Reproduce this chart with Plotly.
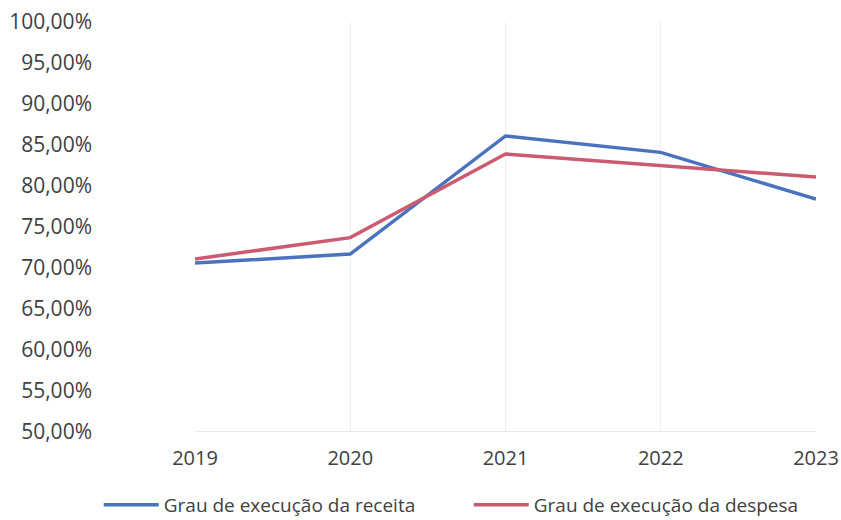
import plotly.graph_objects as go

# data
anos = ["2019", "2020", "2021", "2022", "2023"]
receita = [70.6, 71.7, 86.1, 84.1, 78.4]
despesa = [71.1, 73.7, 83.9, 82.5, 81.1]

fig = go.Figure()

fig.add_trace(go.Scatter(
    x=anos, y=receita, mode="lines",
    name="Grau de execução da receita",
    line=dict(color="#4A73BF", width=3.5)
))
fig.add_trace(go.Scatter(
    x=anos, y=despesa, mode="lines",
    name="Grau de execução da despesa",
    line=dict(color="#CC5A70", width=3.5)
))

fig.update_layout(
    width=841, height=520,
    margin=dict(l=195, r=25, t=22, b=88, autoexpand=False),
    plot_bgcolor="white",
    paper_bgcolor="white",
    separators=",.",
    font=dict(family="Open Sans", size=21, color="#404040"),
    legend=dict(
        orientation="h", x=-0.155, xanchor="left", y=-0.178, yanchor="middle",
        font=dict(size=19, color="#404040"),
        itemwidth=55, entrywidth=300, entrywidthmode="pixels",
    ),
    xaxis=dict(
        type="category", range=[0, 4], automargin=False,
        showgrid=True, gridcolor="#EFEFEF", gridwidth=1,
        showline=False, zeroline=False,
        ticks="", ticklabelstandoff=12, ticklabeloverflow="allow",
        tickfont=dict(size=20),
    ),
    yaxis=dict(
        range=[50, 100], dtick=5, tick0=50, automargin=False,
        tickformat=".2f", ticksuffix="%",
        showgrid=False, zeroline=False,
        showline=False, ticks="",
        ticklabelstandoff=102, ticklabeloverflow="allow",
    ),
)

# bottom axis line
fig.add_shape(type="line", xref="paper", yref="y", x0=0, x1=1, y0=50, y1=50,
              line=dict(color="#E0E0E0", width=1.5))

# drop the default 8px body margin so the 841x520 figure fills the window
fig.write_html("out.html", config={"displayModeBar": False},
               post_script="document.body.style.margin='0px';")
